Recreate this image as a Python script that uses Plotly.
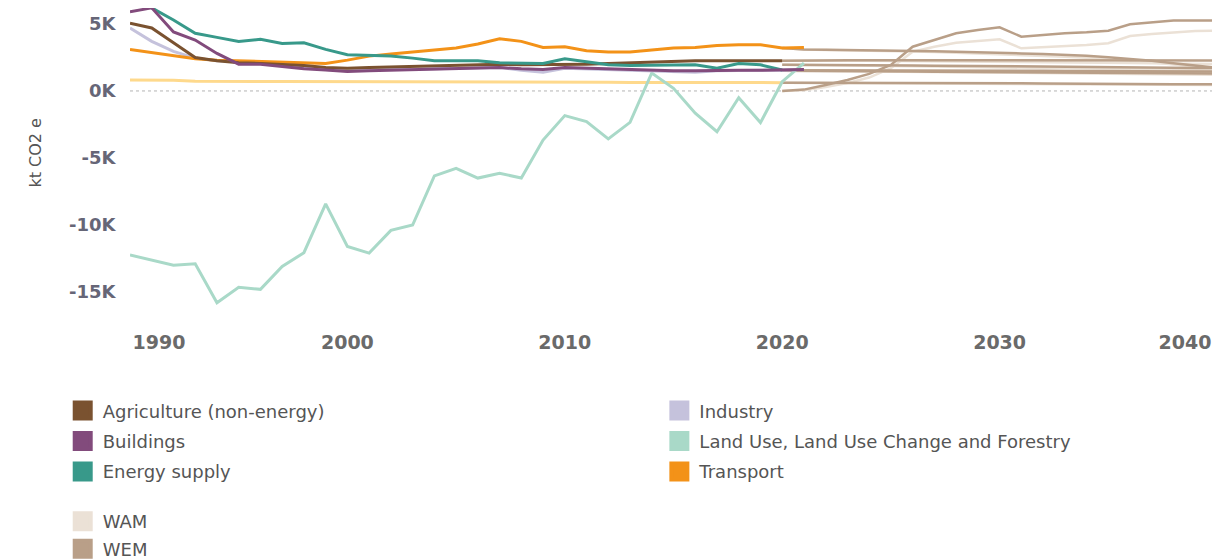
import plotly.graph_objects as go

# ---------------- data (kt CO2 e) ----------------
years_hist = list(range(1990, 2022))
years_proj = list(range(2020, 2041))

agriculture = [5050, 4700, 3600, 2500, 2250, 2100, 2050, 2000, 1900, 1750, 1700, 1750, 1800, 1850, 1850, 1900,
               1950, 2000, 1950, 1950, 2000, 2000, 2050, 2100, 2200, 2200, 2250, 2250, 2250, 2250, 2250, None]
buildings = [5900, 6200, 4400, 3800, 2800, 2000, 2000, 1800, 1650, 1570, 1450, 1500, 1550, 1550, 1600, 1650,
             1700, 1750, 1650, 1600, 1750, 1700, 1600, 1550, 1550, 1500, 1500, 1550, 1550, 1550, 1550, 1600]
energy_supply = [6600, 6200, 5300, 4300, 4000, 3700, 3850, 3550, 3600, 3100, 2700, 2650, 2600, 2450, 2250, 2250,
                 2250, 2100, 2050, 2050, 2400, 2200, 1950, 1900, 1900, 1950, 1950, 1700, 2050, 1950, 1570, None]
industry = [4700, 3700, 2950, 2450, 2250, 2200, 2100, 2000, 1800, 1600, 1500, 1600, 1600, 1600, 1650, 1700,
            1700, 1750, 1550, 1400, 1700, 1650, 1600, 1550, 1500, 1500, 1400, 1500, 1550, 1550, 1550, 1600]
lulucf = [-12240, -12600, -13000, -12900, -15800, -14650, -14800, -13100, -12070, -8430, -11600, -12100, -10400,
          -10000, -6340, -5770, -6500, -6140, -6500, -3660, -1840, -2290, -3580, -2340, 1340, 200, -1660, -3040,
          -500, -2360, 690, 2070]
transport = [3100, 2850, 2600, 2400, 2300, 2250, 2200, 2150, 2100, 2050, 2300, 2600, 2750, 2900, 3050, 3200,
             3500, 3900, 3700, 3250, 3300, 3000, 2900, 2900, 3050, 3200, 3250, 3400, 3450, 3450, 3200, 3250]
waste = [820, 820, 800, 720, 700, 700, 700, 700, 700, 700, 700, 700, 700, 680, 680, 680, 680, 680, 680, 660,
         660, 650, 650, 640, 640, 630, 630, 620, 620, 620, 620, None]

# projections 2020-2040
wem = {
    "lulucf": [0, 100, 450, 820, 1270, 1940, 3300, 3800, 4300, 4550, 4750, 4050, 4180, 4300, 4380, 4500, 4970,
               5100, 5250, 5250, 5250],
    "transport": [3200, 3100, 3070, 3060, 3050, 3040, 3000, 2970, 2930, 2900, 2850, 2800, 2750, 2700, 2620, 2520,
                  2400, 2250, 2070, 1900, 1720],
    "agriculture": [2250, 2280, 2300, 2300, 2300, 2300, 2300, 2300, 2300, 2300, 2300, 2300, 2290, 2290, 2290,
                    2280, 2280, 2280, 2280, 2280, 2280],
    "energy": [1950, 1950, 1940, 1930, 1920, 1910, 1900, 1890, 1880, 1870, 1860, 1850, 1840, 1830, 1820, 1800,
               1780, 1760, 1740, 1720, 1700],
    "buildings": [1550, 1550, 1550, 1540, 1540, 1530, 1530, 1520, 1520, 1510, 1510, 1500, 1500, 1490, 1490, 1480,
                  1480, 1470, 1470, 1460, 1450],
    "industry": [1500, 1500, 1490, 1480, 1470, 1460, 1450, 1440, 1430, 1420, 1410, 1400, 1390, 1380, 1370, 1360,
                 1350, 1340, 1330, 1320, 1300],
    "waste": [620, 620, 610, 610, 600, 600, 590, 590, 580, 580, 570, 570, 560, 560, 550, 540, 530, 520, 510, 500,
              500],
}
wam = {
    "lulucf": [0, 50, 300, 600, 1000, 1700, 2930, 3300, 3600, 3750, 3850, 3180, 3260, 3360, 3430, 3560, 4100,
               4250, 4380, 4480, 4500],
    "transport": [3200, 3100, 3060, 3040, 3020, 3000, 2950, 2900, 2850, 2800, 2740, 2680, 2620, 2560, 2480, 2380,
                  2270, 2140, 1980, 1820, 1650],
    "agriculture": [2250, 2270, 2270, 2260, 2250, 2240, 2230, 2220, 2210, 2200, 2190, 2180, 2160, 2140, 2120,
                    2100, 2080, 2060, 2040, 2020, 2000],
    "energy": [1950, 1940, 1920, 1900, 1880, 1860, 1840, 1820, 1800, 1780, 1760, 1740, 1720, 1700, 1680, 1660,
               1640, 1620, 1600, 1580, 1550],
    "buildings": [1550, 1540, 1530, 1520, 1510, 1500, 1490, 1480, 1470, 1460, 1450, 1440, 1420, 1400, 1390, 1370,
                  1360, 1340, 1330, 1310, 1300],
    "industry": [1500, 1490, 1480, 1460, 1450, 1440, 1420, 1410, 1400, 1380, 1370, 1350, 1340, 1320, 1310, 1290,
                 1270, 1260, 1240, 1220, 1200],
    "waste": [620, 610, 600, 590, 580, 570, 560, 550, 540, 530, 520, 510, 500, 495, 490, 480, 475, 470, 460, 455,
              450],
}

y_tickvals = [-15000, -10000, -5000, 0, 5000]
y_ticktext = ["-15K", "-10K", "-5K", "0K", "5K"]
x_tickvals_mid = [2000, 2010, 2020, 2030]
x_tickval_first = [1990]
x_tickval_last = [2040]
y_title = "kt CO2 e"

sector_names = ["Agriculture (non-energy)", "Buildings", "Energy supply",
                "Industry", "Land Use, Land Use Change and Forestry", "Transport"]
sector_colors = ["#7a5230", "#824b7c", "#38998a", "#c5c2dc", "#a9d9c8", "#f39218"]
sector_values = [agriculture, buildings, energy_supply, industry, lulucf, transport]
waste_color = "#fed98c"
wam_color = "#ebe1d6"
wem_color = "#b99f88"

fig = go.Figure()

proj_keys = ["waste", "industry", "buildings", "energy", "agriculture", "transport", "lulucf"]
for key in proj_keys:
    fig.add_trace(go.Scatter(x=years_proj, y=wam[key], mode="lines", line=dict(color=wam_color, width=2.5),
                             showlegend=False, hoverinfo="skip"))
for key in proj_keys:
    fig.add_trace(go.Scatter(x=years_proj, y=wem[key], mode="lines", line=dict(color=wem_color, width=2.5),
                             showlegend=False, hoverinfo="skip"))

fig.add_trace(go.Scatter(x=years_hist, y=waste, mode="lines", line=dict(color=waste_color, width=3),
                         showlegend=False, name="Waste"))
draw_order = [4, 3, 5, 0, 2, 1]
for i in draw_order:
    fig.add_trace(go.Scatter(x=years_hist, y=sector_values[i], mode="lines",
                             line=dict(color=sector_colors[i], width=3),
                             name=sector_names[i], showlegend=False))


def swatch(name, color, legend, xaxis):
    fig.add_trace(go.Scatter(x=[None], y=[None], mode="markers", name=name, legend=legend,
                             legendgroup=name, xaxis=xaxis,
                             marker=dict(symbol="square", size=16, color=color,
                                         line=dict(color=color, width=4))))


for i in range(3):
    swatch(sector_names[i], sector_colors[i], "legend", "x")
for i in range(3, 6):
    swatch(sector_names[i], sector_colors[i], "legend2", "x2")
swatch("WAM", wam_color, "legend3", "x3")
swatch("WEM", wem_color, "legend3", "x3")

fig.add_shape(type="line", xref="paper", x0=0, x1=1, yref="y", y0=0, y1=0,
              line=dict(color="#b5b5b5", width=1, dash="dot"), layer="below")

fig.add_annotation(text=y_title, xref="paper", yref="paper", x=-0.087, y=0.535,
                   textangle=-90, showarrow=False, xanchor="center", yanchor="middle",
                   font=dict(family="DejaVu Sans", size=16, color="#555555"))

legend_font = dict(family="DejaVu Sans", size=18, color="#555555")
common_legend = dict(font=legend_font, bgcolor="rgba(0,0,0,0)", tracegroupgap=4,
                     xanchor="left", yanchor="top", itemclick=False)

xfont = dict(family="DejaVu Sans", size=19, color="#6a6a6a", weight=600)
common_x = dict(range=[1990, 2040], showgrid=False, zeroline=False, showline=False, automargin=False,
                ticks="outside", ticklen=7, tickcolor="rgba(0,0,0,0)", ticklabeloverflow="allow",
                tickfont=xfont)

fig.update_layout(
    width=1212, height=552,
    margin=dict(l=122, r=3, t=0, b=242, autoexpand=False),
    paper_bgcolor="white", plot_bgcolor="white",
    showlegend=True,
    legend=dict(x=-0.0619, y=-0.24, **common_legend),
    legend2=dict(x=0.487, y=-0.24, **common_legend),
    legend3=dict(x=-0.0619, y=-0.597, **{**common_legend, "tracegroupgap": 1}),
    xaxis=dict(tickvals=x_tickvals_mid, **common_x),
    xaxis2=dict(tickvals=x_tickval_last, overlaying="x", matches="x", ticklabelshift=-32, **common_x),
    xaxis3=dict(tickvals=x_tickval_first, overlaying="x", matches="x", ticklabelshift=29, **common_x),
    yaxis=dict(range=[-16940, 6190], tickvals=y_tickvals, ticktext=y_ticktext,
               showgrid=False, zeroline=False, showline=False, automargin=False,
               ticks="outside", ticklen=10, tickcolor="rgba(0,0,0,0)",
               tickfont=dict(family="DejaVu Sans", size=18, color="#666677", weight=600)),
)

fig.write_html("out.html")
